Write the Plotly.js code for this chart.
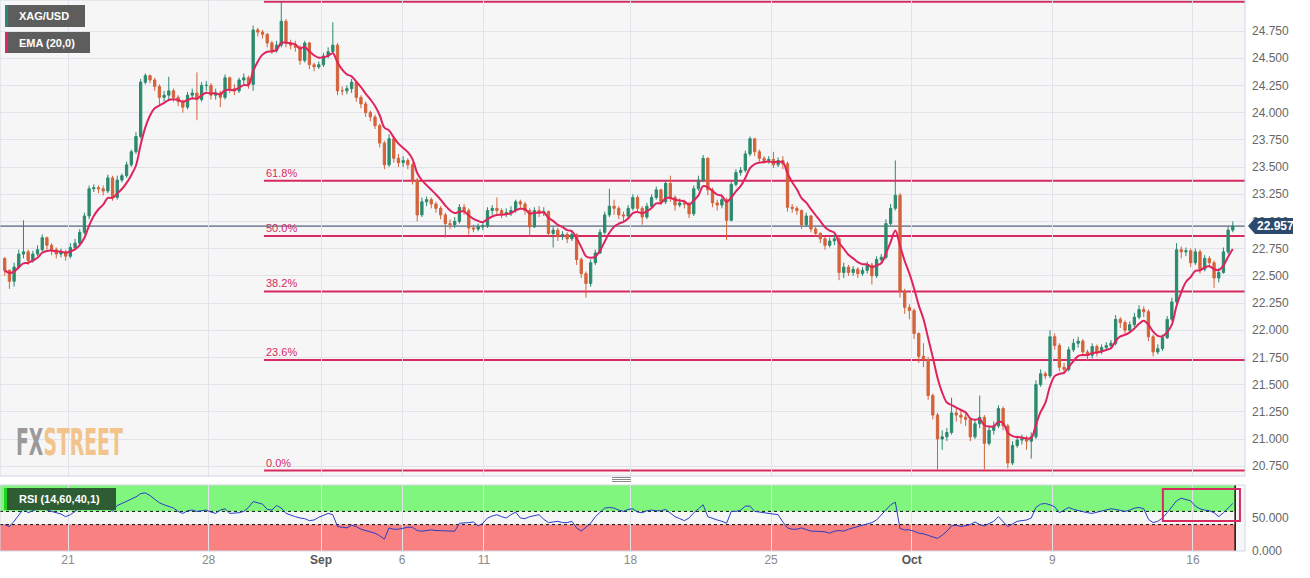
<!DOCTYPE html>
<html><head><meta charset="utf-8">
<script src="https://cdn.plot.ly/plotly-3.0.1.min.js"></script>
<style>html,body{margin:0;padding:0;background:#fff;}#chart{width:1310px;height:578px;}</style>
</head><body><div id="chart"></div>
<script>
// ---------- DATA (XAG/USD, 4-hour bars; x in trading days, Aug 21 = 0) ----------
const firstBarDay = -2.25;
const barsPerDay = 6;
const firstOpen = 22.66;
const close = [
22.55,22.45,22.58,22.70,22.72,22.64,22.70,22.74,22.85,22.78,
22.74,22.70,22.72,22.68,22.76,22.80,22.90,23.05,23.30,23.31,
23.30,23.28,23.40,23.22,23.38,23.42,23.52,23.64,23.78,24.28,
24.34,24.30,24.24,24.14,24.16,24.20,24.14,24.10,24.05,24.16,
24.18,24.12,24.25,24.25,24.16,24.18,24.14,24.32,24.22,24.20,
24.30,24.32,24.26,24.76,24.74,24.72,24.64,24.57,24.62,24.84,
24.64,24.62,24.60,24.48,24.64,24.44,24.42,24.44,24.52,24.56,
24.62,24.20,24.20,24.22,24.28,24.14,24.08,24.00,23.96,23.88,
23.72,23.52,23.76,23.58,23.54,23.56,23.52,23.38,23.06,23.18,
23.20,23.16,23.12,23.06,22.98,22.97,23.00,23.13,23.10,22.94,
22.93,22.95,22.96,23.10,23.12,23.10,23.07,23.08,23.10,23.18,
23.16,23.10,22.95,23.10,23.08,23.09,22.89,22.92,22.86,22.88,
22.84,22.88,22.65,22.52,22.43,22.62,22.71,22.90,23.06,23.14,
23.12,23.06,23.05,23.12,23.22,23.12,23.04,23.14,23.22,23.29,
23.18,23.35,23.22,23.15,23.17,23.16,23.07,23.30,23.38,23.58,
23.29,23.17,23.15,23.20,23.01,23.34,23.45,23.47,23.62,23.76,
23.64,23.58,23.56,23.57,23.52,23.56,23.53,23.13,23.12,23.10,
22.97,23.05,22.93,22.89,22.84,22.78,22.82,22.84,22.53,22.58,
22.53,22.56,22.52,22.55,22.60,22.50,22.65,22.67,22.98,23.12,
23.24,22.36,22.21,22.18,21.97,21.76,21.73,21.40,21.22,21.00,
21.02,21.06,21.24,21.22,21.20,21.18,21.02,21.14,21.20,20.96,
21.08,21.12,21.28,21.12,20.78,20.94,20.99,21.00,20.98,21.02,
21.50,21.60,21.58,21.94,21.86,21.66,21.64,21.82,21.88,21.90,
21.80,21.77,21.85,21.80,21.84,21.86,21.88,22.10,22.07,22.00,
22.05,22.12,22.19,22.17,21.94,21.80,21.83,21.93,22.10,22.26,
22.74,22.72,22.73,22.62,22.72,22.56,22.66,22.62,22.48,22.53,
22.72,22.92,22.957];
const high = [
22.67,22.56,22.62,22.74,23.01,22.74,22.73,22.78,22.88,22.86,
22.80,22.76,22.75,22.74,22.80,22.84,22.93,23.08,23.33,23.34,
23.33,23.33,23.43,23.42,23.42,23.44,23.55,23.66,23.82,24.31,
24.36,24.35,24.32,24.26,24.20,24.33,24.22,24.16,24.12,24.19,
24.22,24.37,24.28,24.29,24.27,24.22,24.20,24.35,24.33,24.26,
24.32,24.36,24.34,24.80,24.78,24.76,24.73,24.66,24.66,25.02,
24.86,24.67,24.66,24.62,24.66,24.65,24.46,24.47,24.55,24.60,
24.83,24.64,24.24,24.25,24.31,24.29,24.16,24.10,24.02,23.98,
23.90,23.74,23.80,23.78,23.62,23.60,23.58,23.54,23.40,23.22,
23.23,23.22,23.18,23.14,23.08,23.02,23.04,23.16,23.16,23.12,
22.97,22.98,23.00,23.13,23.15,23.22,23.12,23.12,23.14,23.20,
23.20,23.18,23.12,23.13,23.14,23.13,23.10,22.95,22.94,22.91,
22.90,22.92,22.89,22.67,22.54,22.65,22.74,22.93,23.09,23.30,
23.20,23.14,23.09,23.15,23.25,23.24,23.14,23.17,23.25,23.32,
23.30,23.38,23.42,23.24,23.21,23.20,23.18,23.33,23.42,23.61,
23.59,23.31,23.20,23.24,23.22,23.37,23.48,23.50,23.65,23.78,
23.76,23.66,23.60,23.60,23.64,23.59,23.60,23.55,23.16,23.14,
23.11,23.08,23.06,22.95,22.90,22.86,22.85,22.88,22.86,22.62,
22.60,22.59,22.58,22.58,22.63,22.62,22.68,22.70,23.02,23.16,
23.56,23.26,22.38,22.24,22.20,21.98,21.88,21.75,21.42,21.24,
21.08,21.10,21.38,21.28,21.26,21.23,21.20,21.18,21.40,21.22,
21.12,21.16,21.31,21.30,21.14,20.98,21.03,21.04,21.03,21.06,
21.54,21.64,21.62,22.00,21.97,21.88,21.70,21.85,21.92,21.94,
21.92,21.82,21.88,21.87,21.87,21.89,21.91,22.14,22.12,22.09,
22.08,22.16,22.23,22.22,22.19,21.96,21.87,21.96,22.13,22.30,
22.80,22.77,22.76,22.75,22.75,22.74,22.69,22.68,22.64,22.57,
22.76,22.95,23.00];
const low = [
22.50,22.38,22.40,22.56,22.66,22.60,22.62,22.68,22.72,22.74,
22.69,22.66,22.67,22.64,22.66,22.74,22.78,22.88,23.02,23.27,
23.26,23.24,23.26,23.19,23.20,23.36,23.40,23.50,23.62,23.76,
24.26,24.27,24.20,24.07,24.10,24.12,24.10,24.06,24.00,24.03,
24.12,23.93,24.10,24.20,24.12,24.12,24.05,24.12,24.18,24.16,
24.18,24.26,24.22,24.20,24.70,24.68,24.60,24.54,24.55,24.60,
24.60,24.58,24.56,24.44,24.46,24.40,24.38,24.40,24.42,24.50,
24.54,24.16,24.16,24.17,24.18,24.10,24.04,23.96,23.92,23.85,
23.68,23.48,23.50,23.54,23.50,23.50,23.48,23.34,23.00,23.04,
23.14,23.12,23.08,23.02,22.85,22.93,22.94,22.98,23.06,22.88,
22.90,22.91,22.92,22.94,23.06,23.06,23.03,23.04,23.05,23.08,
23.12,23.06,22.86,22.94,23.04,23.05,22.86,22.76,22.82,22.83,
22.80,22.82,22.60,22.48,22.30,22.40,22.60,22.70,22.88,23.04,
23.06,23.02,23.00,23.03,23.10,23.08,22.97,23.02,23.12,23.20,
23.15,23.16,23.18,23.10,23.13,23.12,23.03,23.05,23.28,23.36,
23.24,23.13,23.10,23.12,22.83,23.00,23.32,23.42,23.45,23.60,
23.60,23.54,23.53,23.53,23.49,23.50,23.48,23.09,23.08,23.06,
22.93,22.95,22.90,22.86,22.80,22.74,22.76,22.78,22.46,22.48,
22.50,22.50,22.48,22.50,22.52,22.42,22.48,22.62,22.65,22.96,
23.10,22.30,22.15,22.10,21.92,21.70,21.66,21.36,21.18,20.71,
20.90,20.98,21.04,21.16,21.14,21.12,20.98,21.00,21.10,20.72,
20.94,21.04,21.10,21.08,20.73,20.76,20.92,20.95,20.90,20.82,
21.00,21.48,21.55,21.56,21.82,21.62,21.60,21.62,21.80,21.84,
21.76,21.72,21.74,21.76,21.78,21.82,21.83,21.86,22.02,21.96,
21.98,22.03,22.10,22.12,21.90,21.76,21.78,21.81,21.92,22.08,
22.24,22.66,22.68,22.58,22.60,22.52,22.54,22.58,22.39,22.44,
22.52,22.70,22.90];
const rsi = [
40,37,45,55,64,58,61,64,67,62,
60,58,56,52,55,60,66,72,76,77,
75,72,68,60,69,72,75,79,82,87,
88,84,78,73,70,67,65,60,57,61,
62,60,61,62,59,57,62,64,57,57,
58,60,66,75,73,71,63,62,69,65,
57,54,52,50,49,46,47,51,54,57,
55,37,36,35,39,37,33,31,30,27,
23,18,35,33,33,35,36,36,31,30,
31,32,31,31,30,30,30,42,42,43,
44,38,42,50,53,55,52,50,55,59,
50,49,52,53,55,48,43,44,45,43,
43,45,35,30,36,42,52,58,65,66,
65,62,60,63,64,59,58,61,62,61,
61,63,58,52,49,46,50,58,64,70,
52,49,47,45,42,60,60,62,68,68,
60,59,58,56,55,55,44,35,33,33,
35,33,30,30,30,29,27,30,31,30,
33,35,36,38,40,43,47,55,63,70,
74,34,32,32,30,27,26,24,21,19,
24,30,38,39,37,39,40,44,40,38,
41,45,52,45,37,41,45,46,47,50,
66,71,72,70,67,58,62,66,63,61,
60,58,57,59,61,63,64,63,61,60,
62,65,66,64,48,43,45,50,58,67,
76,80,78,76,68,64,62,61,58,52,
58,65,72];

const tickDays = [0, 5, 9, 11.88, 14.79, 20, 25, 30, 35, 40];
const tickLabels = ['21', '28', 'Sep', '6', '11', '18', '25', 'Oct', '9', '16'];
const monthLabels = ['Sep', 'Oct'];
const priceTicks = [20.75, 21.0, 21.25, 21.5, 21.75, 22.0, 22.25, 22.5, 22.75, 23.0, 23.25, 23.5, 23.75, 24.0, 24.25, 24.5, 24.75];
const rsiTicks = [0, 50];
const fibHigh = 25.02, fibLow = 20.71;
const fibRatios = [0, 0.236, 0.382, 0.5, 0.618, 1];
const fibLabels = ['0.0%', '23.6%', '38.2%', '50.0%', '61.8%', ''];
const fibStartDay = 6.97;
const lastPrice = 22.957;
const rsiUpper = 60, rsiLower = 40;
const emaBars = 7;   // EMA(20) of hourly bars, expressed on 4h bars (matched to the drawn line)
const xRange = [-2.418, 41.85];
const priceRange = [20.66, 25.035];

// ---------- DERIVED ----------
const x = close.map((_, i) => firstBarDay + i / barsPerDay);
const open = close.map((c, i) => i === 0 ? firstOpen : close[i - 1]);
const ema = [];
const k = 2 / (emaBars + 1);
close.forEach((c, i) => ema.push(i === 0 ? c : ema[i - 1] + k * (c - ema[i - 1])));
const lastX = x[x.length - 1];
const dataEnd = lastX + 0.5 / barsPerDay;

// ---------- LAYOUT HELPERS ----------
const W = 1310, H = 578, mR = 65, mB = 27;
const plotW = W - mR, plotH = H - mB;
const px = v => v / plotW;
const py = v => 1 - v / plotH;
const RED = '#d62a60', UP = '#2b8a6e', DOWN = '#d4633b';

const traces = [
  {type: 'candlestick', x: x, open: open, high: high, low: low, close: close,
   xaxis: 'x', yaxis: 'y', whiskerwidth: 0, hoverinfo: 'skip',
   increasing: {line: {color: UP, width: 1}, fillcolor: UP},
   decreasing: {line: {color: DOWN, width: 1}, fillcolor: DOWN}},
  {type: 'scatter', mode: 'lines', x: x, y: ema, xaxis: 'x', yaxis: 'y',
   line: {color: '#e0235d', width: 2, shape: 'spline'}, hoverinfo: 'skip'},
  {type: 'scatter', mode: 'lines', x: x, y: rsi, xaxis: 'x', yaxis: 'y2',
   line: {color: '#2a3cc8', width: 1}, hoverinfo: 'skip'}
];

const shapes = [];
shapes.push({type: 'rect', xref: 'x', yref: 'y2', x0: xRange[0], x1: dataEnd, y0: rsiUpper, y1: 100, fillcolor: '#80f67f', line: {width: 0}, layer: 'below'});
shapes.push({type: 'rect', xref: 'x', yref: 'y2', x0: xRange[0], x1: dataEnd, y0: 0, y1: rsiLower, fillcolor: '#f98181', line: {width: 0}, layer: 'below'});
[rsiUpper, rsiLower].forEach(v => shapes.push({type: 'line', xref: 'x', yref: 'y2', x0: xRange[0], x1: dataEnd, y0: v, y1: v, line: {color: '#111', width: 1, dash: 'dot'}, layer: 'below'}));
shapes.push({type: 'line', xref: 'x', yref: 'y2', x0: dataEnd, x1: dataEnd, y0: 0, y1: 100, line: {color: '#111', width: 1.5}});
shapes.push({type: 'rect', xref: 'x', yref: 'y2', x0: 38.93, x1: 41.67, y0: 45.5, y1: 94, line: {color: RED, width: 2}, fillcolor: 'rgba(0,0,0,0)'});
shapes.push({type: 'line', xref: 'x', yref: 'y', x0: xRange[0], x1: xRange[1], y0: lastPrice, y1: lastPrice, line: {color: '#2b3d5e', width: 1}, layer: 'below'});
const fibLevels = fibRatios.map(r => fibLow + r * (fibHigh - fibLow));
fibLevels.forEach(v => shapes.push({type: 'line', xref: 'x', yref: 'y', x0: fibStartDay, x1: xRange[1], y0: v, y1: v, line: {color: RED, width: 2}, layer: 'below'}));
shapes.push({type: 'rect', xref: 'paper', yref: 'paper', x0: 0, x1: 1, y0: py(476), y1: 1, line: {color: '#d3d6e6', width: 1}});
shapes.push({type: 'rect', xref: 'paper', yref: 'paper', x0: 0, x1: 1, y0: 0, y1: py(485), line: {color: '#d3d6e6', width: 1}});
[477.5, 479.5, 481.5].forEach(v => shapes.push({type: 'line', xref: 'paper', yref: 'paper', x0: px(612), x1: px(631), y0: py(v), y1: py(v), line: {color: '#8a8a8a', width: 1}}));
shapes.push({type: 'rect', xref: 'paper', yref: 'paper', x0: px(5), x1: px(85), y0: py(27), y1: py(5), fillcolor: '#5d5d5d', line: {width: 0}});
shapes.push({type: 'rect', xref: 'paper', yref: 'paper', x0: px(5), x1: px(8), y0: py(27), y1: py(5), fillcolor: UP, line: {width: 0}});
shapes.push({type: 'rect', xref: 'paper', yref: 'paper', x0: px(5), x1: px(90), y0: py(53), y1: py(32), fillcolor: '#5d5d5d', line: {width: 0}});
shapes.push({type: 'rect', xref: 'paper', yref: 'paper', x0: px(5), x1: px(8), y0: py(53), y1: py(32), fillcolor: RED, line: {width: 0}});
shapes.push({type: 'rect', xref: 'paper', yref: 'paper', x0: px(4), x1: px(116), y0: py(510), y1: py(488), fillcolor: '#2f5d33', line: {width: 0}});
shapes.push({type: 'rect', xref: 'paper', yref: 'paper', x0: px(4), x1: px(7), y0: py(510), y1: py(488), fillcolor: '#1fd41f', line: {width: 0}});
shapes.push({type: 'path', xref: 'paper', yref: 'y', xsizemode: 'pixel', ysizemode: 'pixel', xanchor: 1, yanchor: lastPrice,
  path: 'M3,0 L10,8 L48,8 L48,-8 L10,-8 Z', fillcolor: '#2c4a6e', line: {width: 0}});

const annotations = [];
fibLevels.forEach((v, i) => { if (fibLabels[i]) annotations.push({xref: 'x', yref: 'y', x: fibStartDay, y: v, xanchor: 'left', yanchor: 'bottom', yshift: 0, showarrow: false, text: fibLabels[i], font: {size: 11, color: RED, family: 'Liberation Sans, Arial, sans-serif'}}); });
annotations.push({xref: 'paper', yref: 'paper', x: px(17), y: py(16), xanchor: 'left', yanchor: 'middle', showarrow: false, text: 'XAG/USD', font: {size: 11, color: '#fff', weight: 'bold'}});
annotations.push({xref: 'paper', yref: 'paper', x: px(17), y: py(42.5), xanchor: 'left', yanchor: 'middle', showarrow: false, text: 'EMA (20,0)', font: {size: 11, color: '#fff', weight: 'bold'}});
annotations.push({xref: 'paper', yref: 'paper', x: px(17), y: py(499), xanchor: 'left', yanchor: 'middle', showarrow: false, text: 'RSI (14,60,40,1)', font: {size: 11, color: '#fff', weight: 'bold'}});
annotations.push({xref: 'paper', yref: 'y', x: 1, y: lastPrice, xanchor: 'left', xshift: 10, yanchor: 'middle', showarrow: false, text: lastPrice.toFixed(3), font: {size: 12, color: '#fff', weight: 'bold'}});
annotations.push({xref: 'paper', yref: 'paper', x: px(14), y: py(442), xanchor: 'left', yanchor: 'middle', showarrow: false,
  text: '<span style="color:#9a9a9a">FX</span><span style="color:#f2c38a">STREET</span>',
  font: {size: 37, weight: 'bold', family: 'Liberation Sans Narrow, DejaVu Sans Condensed, Arial Narrow, sans-serif'}});

const tickText = tickLabels.map(t => monthLabels.includes(t) ? '<b><span style="color:#555">' + t + '</span></b>' : t);

const layout = {
  width: W, height: H, margin: {l: 0, r: mR, t: 0, b: mB, pad: 0},
  paper_bgcolor: '#ffffff', plot_bgcolor: '#f6f6f7',
  showlegend: false, dragmode: false, hovermode: false,
  font: {family: 'Liberation Sans, Arial, sans-serif', size: 11, color: '#666'},
  xaxis: {domain: [0, 1], range: xRange, anchor: 'y2', tickmode: 'array', tickvals: tickDays, ticktext: tickText,
    showgrid: true, gridcolor: '#e2e3ea', gridwidth: 1, zeroline: false, showline: false, ticks: '',
    tickfont: {size: 12, color: '#8a8a8a'}, rangeslider: {visible: false}, fixedrange: true},
  yaxis: {domain: [py(476), 1], range: priceRange, side: 'right', anchor: 'x', tickmode: 'array', tickvals: priceTicks,
    tickformat: '.3f', showgrid: true, gridcolor: '#e2e3ea', zeroline: false, showline: false, ticks: '',
    ticklabelstandoff: 6, tickfont: {size: 12, color: '#666'}, fixedrange: true},
  yaxis2: {domain: [0, py(485)], range: [0, 100], side: 'right', anchor: 'x', tickmode: 'array', tickvals: rsiTicks,
    tickformat: '.3f', showgrid: false, zeroline: false, showline: false, ticks: '',
    ticklabelstandoff: 6, tickfont: {size: 12, color: '#666'}, fixedrange: true},
  shapes: shapes, annotations: annotations
};

const logoWidth = 107;   // width of the original condensed logo
Plotly.newPlot('chart', traces, layout, {staticPlot: true, displayModeBar: false}).then(gd => {
  gd.querySelectorAll('.annotation-text').forEach(t => {
    if (t.textContent === 'FXSTREET') {
      const b = t.getBBox();
      const s = logoWidth / b.width;
      t.setAttribute('transform', 'translate(' + b.x + ',0) scale(' + s + ',1) translate(' + (-b.x) + ',0)');
    }
  });
});
</script></body></html>
